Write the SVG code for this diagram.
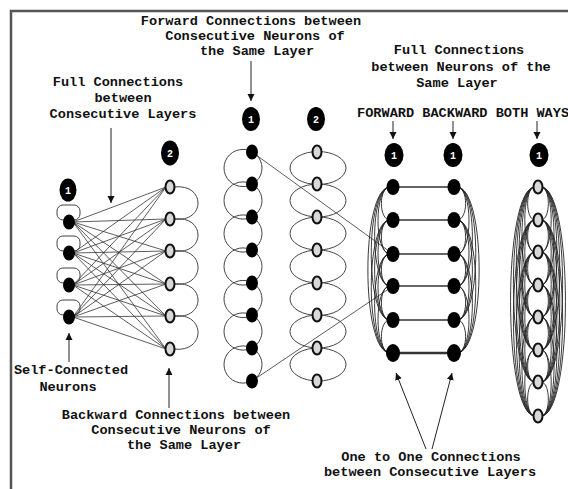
<svg xmlns="http://www.w3.org/2000/svg" width="568" height="489" viewBox="0 0 568 489">
  <defs>
    <marker id="arrow" markerWidth="8" markerHeight="8" refX="7" refY="4" orient="auto" markerUnits="userSpaceOnUse">
      <path d="M0 0.5 L7 4 L0 7.5 Z" fill="#111"/>
    </marker>
    <style>
      .lbl { font-family: "Liberation Mono", "DejaVu Sans Mono", monospace; font-weight: bold; font-size: 13.6px; fill: #111; text-anchor: middle; }
      .frame { fill: none; stroke: #555; stroke-width: 2.5; }
      .pointer { fill: none; stroke: #222; stroke-width: 1; marker-end: url(#arrow); }
      .wire { fill: none; stroke: #333; stroke-width: 0.8; }
      .loop { fill: none; stroke: #444; stroke-width: 1; }
      .dense { fill: none; stroke: #222; stroke-width: 0.9; }
      .link { fill: none; stroke: #333; stroke-width: 1.3; }
      .solid { fill: #000; }
      .hollow { fill: #d8d8d8; stroke: #111; stroke-width: 2; }
      .tag { fill: #000; }
      .tagtxt { font-family: "Liberation Mono", "DejaVu Sans Mono", monospace; font-weight: bold; font-size: 10px; fill: #fff; text-anchor: middle; }
    </style>
  </defs>

  <rect width="568" height="489" fill="#fff"/>
  <path class="frame" d="M11 489 L11 11 L568 11"/>

  <!-- captions -->
  <g id="captions">
    <text class="lbl" x="251" y="25">Forward Connections between</text>
    <text class="lbl" x="255" y="40">Consecutive Neurons of</text>
    <text class="lbl" x="257" y="55">the Same Layer</text>

    <text class="lbl" x="118" y="86">Full Connections</text>
    <text class="lbl" x="123" y="102">between</text>
    <text class="lbl" x="123" y="118">Consecutive Layers</text>

    <text class="lbl" x="459" y="54">Full Connections</text>
    <text class="lbl" x="461" y="71">between Neurons of the</text>
    <text class="lbl" x="457" y="87">Same Layer</text>

    <text class="lbl" x="357" y="117" style="text-anchor:start">FORWARD BACKWARD BOTH WAYS</text>

    <text class="lbl" x="71" y="374">Self-Connected</text>
    <text class="lbl" x="68" y="391">Neurons</text>

    <text class="lbl" x="176" y="419">Backward Connections between</text>
    <text class="lbl" x="181" y="434">Consecutive Neurons of</text>
    <text class="lbl" x="184" y="449">the Same Layer</text>

    <text class="lbl" x="431" y="461">One to One Connections</text>
    <text class="lbl" x="430" y="476">between Consecutive Layers</text>
  </g>

  <!-- connectors -->
  <g id="connectors">
    <!-- full connections, layer 1 to layer 2 -->
    <path class="wire" d="M73 222L166 187M73 222L166 219M73 222L166 251M73 222L166 284M73 222L166 316M73 222L166 349"/>
    <path class="wire" d="M73 253L166 187M73 253L166 219M73 253L166 251M73 253L166 284M73 253L166 316M73 253L166 349"/>
    <path class="wire" d="M73 285L166 187M73 285L166 219M73 285L166 251M73 285L166 284M73 285L166 316M73 285L166 349"/>
    <path class="wire" d="M73 317L166 187M73 317L166 219M73 317L166 251M73 317L166 284M73 317L166 316M73 317L166 349"/>

    <!-- self loops -->
    <rect class="loop" x="57" y="205" width="23" height="15" rx="6"/>
    <rect class="loop" x="57" y="236" width="23" height="15" rx="6"/>
    <rect class="loop" x="57" y="268" width="23" height="15" rx="6"/>
    <rect class="loop" x="57" y="300" width="23" height="15" rx="6"/>

    <!-- backward loops, layer 2 -->
    <path class="loop" d="M174 187C206 183 206 223 174 219M174 219C206 215 206 255 174 251M174 251C206 247 206 288 174 284M174 284C206 280 206 320 174 316M174 316C206 312 206 353 174 349"/>

    <!-- forward chain, left column -->
    <ellipse class="loop" cx="243" cy="168" rx="19" ry="18.6"/>
    <ellipse class="loop" cx="243" cy="200.5" rx="19" ry="18.6"/>
    <ellipse class="loop" cx="243" cy="233.5" rx="19" ry="18.6"/>
    <ellipse class="loop" cx="243" cy="266.5" rx="19" ry="18.6"/>
    <ellipse class="loop" cx="243" cy="299" rx="19" ry="18.6"/>
    <ellipse class="loop" cx="243" cy="331.5" rx="19" ry="18.6"/>
    <ellipse class="loop" cx="243" cy="364.5" rx="19" ry="18.6"/>

    <!-- backward chain, right column -->
    <ellipse class="loop" cx="318" cy="168" rx="28" ry="16.5"/>
    <ellipse class="loop" cx="318" cy="200.5" rx="28" ry="16.5"/>
    <ellipse class="loop" cx="318" cy="233.5" rx="28" ry="16.5"/>
    <ellipse class="loop" cx="318" cy="266.5" rx="28" ry="16.5"/>
    <ellipse class="loop" cx="318" cy="299" rx="28" ry="16.5"/>
    <ellipse class="loop" cx="318" cy="331.5" rx="28" ry="16.5"/>
    <ellipse class="loop" cx="318" cy="364.5" rx="28" ry="16.5"/>

    <!-- long diagonals into the layered block -->
    <path class="wire" d="M252 152L393 254M252 381L393 286"/>

    <!-- forward full connections (left side) -->
    <path class="dense" d="M390 187C378.5 187 378.5 220 390 220M390 220C378.5 220 378.5 254 390 254M390 254C378.5 254 378.5 286 390 286M390 286C378.5 286 378.5 320 390 320M390 320C378.5 320 378.5 353 390 353M390 187C374 187 374 254 390 254M390 220C374 220 374 286 390 286M390 254C374 254 374 320 390 320M390 286C374 286 374 353 390 353M390 187C369.5 187 369.5 286 390 286M390 220C369.5 220 369.5 320 390 320M390 254C369.5 254 369.5 353 390 353M390 187C365 187 365 320 390 320M390 220C365 220 365 353 390 353M390 187C360.5 187 360.5 353 390 353"/>

    <!-- backward full connections (right side) -->
    <path class="dense" d="M457 187C468.5 187 468.5 220 457 220M457 220C468.5 220 468.5 254 457 254M457 254C468.5 254 468.5 286 457 286M457 286C468.5 286 468.5 320 457 320M457 320C468.5 320 468.5 353 457 353M457 187C473 187 473 254 457 254M457 220C473 220 473 286 457 286M457 254C473 254 473 320 457 320M457 286C473 286 473 353 457 353M457 187C477.5 187 477.5 286 457 286M457 220C477.5 220 477.5 320 457 320M457 254C477.5 254 477.5 353 457 353M457 187C482 187 482 320 457 320M457 220C482 220 482 353 457 353M457 187C486.5 187 486.5 353 457 353"/>

    <!-- one-to-one links -->
    <path class="link" d="M399 187H448M399 220H448M399 254H448M399 286H448M399 320H448"/>
    <path class="link" d="M399 353H448" style="stroke-width:2.6"/>

    <!-- both-ways full connections -->
    <path class="dense" d="M535 187C525.2 187 525.2 220 535 220M535 220C525.2 220 525.2 252 535 252M535 252C525.2 252 525.2 285 535 285M535 285C525.2 285 525.2 317 535 317M535 317C525.2 317 525.2 350 535 350M535 350C525.2 350 525.2 382 535 382M535 382C525.2 382 525.2 416 535 416M535 187C521.4 187 521.4 252 535 252M535 220C521.4 220 521.4 285 535 285M535 252C521.4 252 521.4 317 535 317M535 285C521.4 285 521.4 350 535 350M535 317C521.4 317 521.4 382 535 382M535 350C521.4 350 521.4 416 535 416M535 187C517.6 187 517.6 285 535 285M535 220C517.6 220 517.6 317 535 317M535 252C517.6 252 517.6 350 535 350M535 285C517.6 285 517.6 382 535 382M535 317C517.6 317 517.6 416 535 416M535 187C513.8 187 513.8 317 535 317M535 220C513.8 220 513.8 350 535 350M535 252C513.8 252 513.8 382 535 382M535 285C513.8 285 513.8 416 535 416M535 187C510 187 510 350 535 350M535 220C510 220 510 382 535 382M535 252C510 252 510 416 535 416M535 187C506.2 187 506.2 382 535 382M535 220C506.2 220 506.2 416 535 416M535 187C502.4 187 502.4 416 535 416"/>
    <path class="dense" d="M541 187C550.8 187 550.8 220 541 220M541 220C550.8 220 550.8 252 541 252M541 252C550.8 252 550.8 285 541 285M541 285C550.8 285 550.8 317 541 317M541 317C550.8 317 550.8 350 541 350M541 350C550.8 350 550.8 382 541 382M541 382C550.8 382 550.8 416 541 416M541 187C554.6 187 554.6 252 541 252M541 220C554.6 220 554.6 285 541 285M541 252C554.6 252 554.6 317 541 317M541 285C554.6 285 554.6 350 541 350M541 317C554.6 317 554.6 382 541 382M541 350C554.6 350 554.6 416 541 416M541 187C558.4 187 558.4 285 541 285M541 220C558.4 220 558.4 317 541 317M541 252C558.4 252 558.4 350 541 350M541 285C558.4 285 558.4 382 541 382M541 317C558.4 317 558.4 416 541 416M541 187C562.2 187 562.2 317 541 317M541 220C562.2 220 562.2 350 541 350M541 252C562.2 252 562.2 382 541 382M541 285C562.2 285 562.2 416 541 416M541 187C566 187 566 350 541 350M541 220C566 220 566 382 541 382M541 252C566 252 566 416 541 416M541 187C569.8 187 569.8 382 541 382M541 220C569.8 220 569.8 416 541 416M541 187C573.6 187 573.6 416 541 416"/>

    <!-- caption pointers -->
    <path class="pointer" d="M111 128V203"/>
    <path class="pointer" d="M251 61V101"/>
    <path class="pointer" d="M393 121V139"/>
    <path class="pointer" d="M453 121V139"/>
    <path class="pointer" d="M537 121V139"/>
    <path class="pointer" d="M69 362V333"/>
    <path class="pointer" d="M169 408V368"/>
    <path class="pointer" d="M426 449L396 373"/>
    <path class="pointer" d="M432 449L452 373"/>
  </g>

  <!-- layer tags -->
  <g id="tag-a1"><ellipse class="tag" cx="68" cy="190" rx="8.5" ry="11.5"/><text class="tagtxt" x="68" y="194">1</text></g>
  <g id="tag-a2"><ellipse class="tag" cx="170" cy="153" rx="9" ry="12.5"/><text class="tagtxt" x="170" y="157">2</text></g>
  <g id="tag-b1"><ellipse class="tag" cx="251" cy="119" rx="9" ry="12"/><text class="tagtxt" x="251" y="123">1</text></g>
  <g id="tag-b2"><ellipse class="tag" cx="316" cy="119" rx="9" ry="12"/><text class="tagtxt" x="316" y="123">2</text></g>
  <g id="tag-c1"><ellipse class="tag" cx="394" cy="155" rx="9.5" ry="12"/><text class="tagtxt" x="394" y="159">1</text></g>
  <g id="tag-c2"><ellipse class="tag" cx="453" cy="155" rx="9.5" ry="12"/><text class="tagtxt" x="453" y="159">1</text></g>
  <g id="tag-c3"><ellipse class="tag" cx="539" cy="155" rx="9.5" ry="12"/><text class="tagtxt" x="539" y="159">1</text></g>

  <!-- layer 1 neurons (self-connected) -->
  <g id="a1-n1"><ellipse class="solid" cx="69" cy="222" rx="6" ry="7.5"/></g>
  <g id="a1-n2"><ellipse class="solid" cx="69" cy="253" rx="6" ry="7.5"/></g>
  <g id="a1-n3"><ellipse class="solid" cx="69" cy="285" rx="6" ry="7.5"/></g>
  <g id="a1-n4"><ellipse class="solid" cx="69" cy="317" rx="6" ry="7.5"/></g>

  <!-- layer 2 neurons -->
  <g id="a2-n1"><ellipse class="hollow" cx="170" cy="187" rx="4.5" ry="6.5"/></g>
  <g id="a2-n2"><ellipse class="hollow" cx="170" cy="219" rx="4.5" ry="6.5"/></g>
  <g id="a2-n3"><ellipse class="hollow" cx="170" cy="251" rx="4.5" ry="6.5"/></g>
  <g id="a2-n4"><ellipse class="hollow" cx="170" cy="284" rx="4.5" ry="6.5"/></g>
  <g id="a2-n5"><ellipse class="hollow" cx="170" cy="316" rx="4.5" ry="6.5"/></g>
  <g id="a2-n6"><ellipse class="hollow" cx="170" cy="349" rx="4.5" ry="6.5"/></g>

  <!-- forward-chain neurons -->
  <g id="b1-n1"><ellipse class="solid" cx="252" cy="152" rx="6" ry="7.5"/></g>
  <g id="b1-n2"><ellipse class="solid" cx="252" cy="184" rx="6" ry="7.5"/></g>
  <g id="b1-n3"><ellipse class="solid" cx="252" cy="217" rx="6" ry="7.5"/></g>
  <g id="b1-n4"><ellipse class="solid" cx="252" cy="250" rx="6" ry="7.5"/></g>
  <g id="b1-n5"><ellipse class="solid" cx="252" cy="283" rx="6" ry="7.5"/></g>
  <g id="b1-n6"><ellipse class="solid" cx="252" cy="315" rx="6" ry="7.5"/></g>
  <g id="b1-n7"><ellipse class="solid" cx="252" cy="348" rx="6" ry="7.5"/></g>
  <g id="b1-n8"><ellipse class="solid" cx="252" cy="381" rx="6" ry="7.5"/></g>

  <!-- backward-chain neurons -->
  <g id="b2-n1"><ellipse class="hollow" cx="317" cy="152" rx="4.5" ry="6.5"/></g>
  <g id="b2-n2"><ellipse class="hollow" cx="317" cy="184" rx="4.5" ry="6.5"/></g>
  <g id="b2-n3"><ellipse class="hollow" cx="317" cy="217" rx="4.5" ry="6.5"/></g>
  <g id="b2-n4"><ellipse class="hollow" cx="317" cy="250" rx="4.5" ry="6.5"/></g>
  <g id="b2-n5"><ellipse class="hollow" cx="317" cy="283" rx="4.5" ry="6.5"/></g>
  <g id="b2-n6"><ellipse class="hollow" cx="317" cy="315" rx="4.5" ry="6.5"/></g>
  <g id="b2-n7"><ellipse class="hollow" cx="317" cy="348" rx="4.5" ry="6.5"/></g>
  <g id="b2-n8"><ellipse class="hollow" cx="317" cy="381" rx="4.5" ry="6.5"/></g>

  <!-- forward layer -->
  <g id="c1-n1"><ellipse class="solid" cx="393" cy="187" rx="6.5" ry="8"/></g>
  <g id="c1-n2"><ellipse class="solid" cx="393" cy="220" rx="6.5" ry="8"/></g>
  <g id="c1-n3"><ellipse class="solid" cx="393" cy="254" rx="6.5" ry="8"/></g>
  <g id="c1-n4"><ellipse class="solid" cx="393" cy="286" rx="6.5" ry="8"/></g>
  <g id="c1-n5"><ellipse class="solid" cx="393" cy="320" rx="6.5" ry="8"/></g>
  <g id="c1-n6"><ellipse class="solid" cx="393" cy="353" rx="7" ry="9"/></g>

  <!-- backward layer -->
  <g id="c2-n1"><ellipse class="solid" cx="454" cy="187" rx="6.5" ry="8"/></g>
  <g id="c2-n2"><ellipse class="solid" cx="454" cy="220" rx="6.5" ry="8"/></g>
  <g id="c2-n3"><ellipse class="solid" cx="454" cy="254" rx="6.5" ry="8"/></g>
  <g id="c2-n4"><ellipse class="solid" cx="454" cy="286" rx="6.5" ry="8"/></g>
  <g id="c2-n5"><ellipse class="solid" cx="454" cy="320" rx="6.5" ry="8"/></g>
  <g id="c2-n6"><ellipse class="solid" cx="454" cy="353" rx="7" ry="9"/></g>

  <!-- both-ways layer -->
  <g id="c3-n1"><ellipse class="hollow" cx="538" cy="187" rx="4.5" ry="6.5"/></g>
  <g id="c3-n2"><ellipse class="hollow" cx="538" cy="220" rx="4.5" ry="6.5"/></g>
  <g id="c3-n3"><ellipse class="hollow" cx="538" cy="252" rx="4.5" ry="6.5"/></g>
  <g id="c3-n4"><ellipse class="hollow" cx="538" cy="285" rx="4.5" ry="6.5"/></g>
  <g id="c3-n5"><ellipse class="hollow" cx="538" cy="317" rx="4.5" ry="6.5"/></g>
  <g id="c3-n6"><ellipse class="hollow" cx="538" cy="350" rx="4.5" ry="6.5"/></g>
  <g id="c3-n7"><ellipse class="hollow" cx="538" cy="382" rx="4.5" ry="6.5"/></g>
  <g id="c3-n8"><ellipse class="hollow" cx="538" cy="416" rx="4.5" ry="6.5"/></g>
</svg>
